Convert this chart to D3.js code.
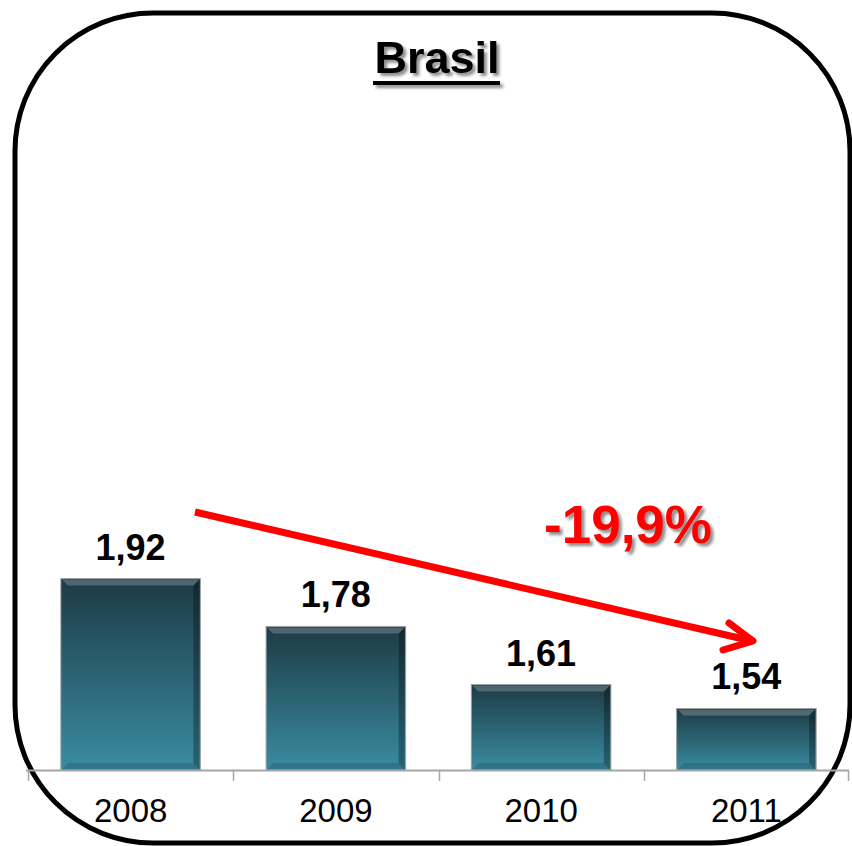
<!DOCTYPE html>
<html>
<head>
<meta charset="utf-8">
<script src="https://cdn.jsdelivr.net/npm/d3@7"></script>
<style>
  html, body { margin: 0; padding: 0; background: #fff; }
  svg { display: block; font-family: Arial, "Liberation Sans", sans-serif; }
</style>
</head>
<body>
<div id="chart"></div>
<script>
// Brasil - bar chart 2008-2011

// Data
const years = ['2008', '2009', '2010', '2011'];
const values = [1.92, 1.78, 1.61, 1.54];
const valueLabels = ['1,92', '1,78', '1,61', '1,54'];
const changeLabel = '-19,9%';
const titleText = 'Brasil';

// Configuration
const config = {
    width: 852,
    height: 846,
    baseline: 770,
    top: 100
};

const svg = d3.select('#chart')
    .append('svg')
    .attr('width', config.width)
    .attr('height', config.height);

const defs = svg.append('defs');

// Bar gradient
const grad = defs.append('linearGradient')
    .attr('id', 'barGrad')
    .attr('x1', 0).attr('y1', 0).attr('x2', 0).attr('y2', 1);
grad.append('stop').attr('offset', '0%').attr('stop-color', '#1d3a44');
grad.append('stop').attr('offset', '100%').attr('stop-color', '#3a8ca2');

// Text shadow
const shadow = defs.append('filter')
    .attr('id', 'shadow')
    .attr('x', '-20%').attr('y', '-20%')
    .attr('width', '140%').attr('height', '160%');
shadow.append('feDropShadow')
    .attr('dx', 3).attr('dy', 3)
    .attr('stdDeviation', 1.8)
    .attr('flood-color', '#000')
    .attr('flood-opacity', 0.45);

// Scales
const x = d3.scaleBand()
    .domain(years)
    .range([28, 849])
    .paddingInner(0.32)
    .paddingOuter(0.16);

const y = d3.scaleLinear()
    .domain([1.36, 3.32])
    .range([config.baseline, config.top]);

// Frame
svg.append('rect')
    .attr('x', 15).attr('y', 13)
    .attr('width', 835).attr('height', 830)
    .attr('rx', 138).attr('ry', 138)
    .attr('fill', 'none')
    .attr('stroke', '#000')
    .attr('stroke-width', 5);

// Title
const title = svg.append('g').attr('filter', 'url(#shadow)');
title.append('text')
    .attr('x', 437).attr('y', 73)
    .attr('text-anchor', 'middle')
    .attr('font-size', 45)
    .attr('font-weight', 'bold')
    .text(titleText);
title.append('rect')
    .attr('x', 373).attr('y', 81)
    .attr('width', 127).attr('height', 4)
    .attr('fill', '#000');

// Bars
const bars = svg.append('g').selectAll('g')
    .data(years)
    .enter().append('g');

bars.append('rect')
    .attr('x', d => x(d))
    .attr('y', (d, i) => y(values[i]))
    .attr('width', x.bandwidth())
    .attr('height', (d, i) => config.baseline - y(values[i]))
    .attr('fill', 'url(#barGrad)')
    .attr('stroke', '#9aa3a6')
    .attr('stroke-width', 1);

// bevel: light top edge, dark right edge
bars.append('path')
    .attr('d', (d, i) => {
        const x0 = x(d), x1 = x0 + x.bandwidth(), y0 = y(values[i]), b = 7;
        return `M${x0 + 1},${y0 + 1}L${x1 - 1},${y0 + 1}L${x1 - b},${y0 + b}L${x0 + b},${y0 + b}Z`;
    })
    .attr('fill', '#ffffff')
    .attr('opacity', 0.22);
bars.append('path')
    .attr('d', (d, i) => {
        const x0 = x(d), x1 = x0 + x.bandwidth(), y0 = y(values[i]), b = 7;
        return `M${x1 - 1},${y0 + 1}L${x1 - 1},${config.baseline}L${x1 - b},${config.baseline - b}L${x1 - b},${y0 + b}Z`;
    })
    .attr('fill', '#000')
    .attr('opacity', 0.3);
bars.append('path')
    .attr('d', (d, i) => {
        const x0 = x(d), x1 = x0 + x.bandwidth(), b = 7;
        return `M${x0 + 1},${config.baseline}L${x1 - 1},${config.baseline}L${x1 - b},${config.baseline - b}L${x0 + b},${config.baseline - b}Z`;
    })
    .attr('fill', '#000')
    .attr('opacity', 0.15);

// Value labels
bars.append('text')
    .attr('x', d => x(d) + x.bandwidth() / 2)
    .attr('y', (d, i) => y(values[i]) - 19)
    .attr('text-anchor', 'middle')
    .attr('font-size', 36)
    .attr('font-weight', 'bold')
    .attr('fill', '#000')
    .text((d, i) => valueLabels[i]);

// Axis
const axis = svg.append('g')
    .attr('transform', `translate(0,${config.baseline})`)
    .call(d3.axisBottom(x).tickSize(0).tickPadding(29));
axis.select('.domain')
    .attr('d', 'M26,0.5H849')
    .attr('stroke', '#a6a6a6')
    .attr('stroke-width', 2);
axis.selectAll('.tick text')
    .attr('font-size', 33)
    .attr('font-family', 'Arial, "Liberation Sans", sans-serif')
    .attr('fill', '#000');

// category separators
const bounds = years.map(d => x(d) - x.step() * x.paddingInner() / 2).concat([x.range()[1] - 1]);
axis.selectAll('.sep')
    .data(bounds)
    .enter().append('line')
    .attr('class', 'sep')
    .attr('x1', d => Math.round(d) + 0.5).attr('x2', d => Math.round(d) + 0.5)
    .attr('y1', 0).attr('y2', 11)
    .attr('stroke', '#a6a6a6')
    .attr('stroke-width', 1.5);

// Trend arrow
const arrow = svg.append('g')
    .attr('stroke', '#ff0000')
    .attr('stroke-width', 7)
    .attr('fill', 'none')
    .attr('stroke-linecap', 'round')
    .attr('stroke-linejoin', 'round');
arrow.append('line')
    .attr('x1', 195).attr('y1', 512)
    .attr('x2', 752).attr('y2', 641)
    .attr('stroke-linecap', 'butt');
arrow.append('path')
    .attr('d', 'M729,623L753,641L723,650');

svg.append('text')
    .attr('x', 628).attr('y', 543)
    .attr('text-anchor', 'middle')
    .attr('font-size', 53)
    .attr('font-weight', 'bold')
    .attr('fill', '#ff0000')
    .attr('filter', 'url(#shadow)')
    .text(changeLabel);
</script>
</body>
</html>
